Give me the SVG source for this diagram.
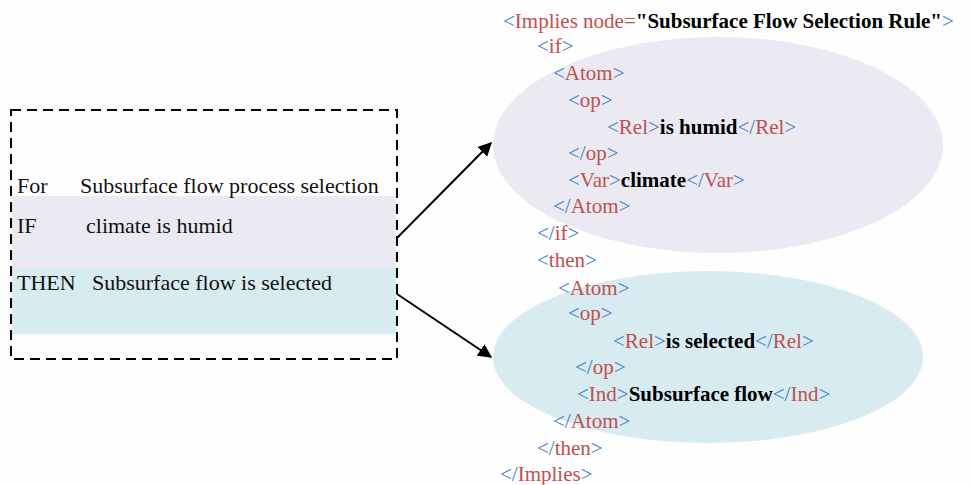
<svg xmlns="http://www.w3.org/2000/svg" width="971" height="485" viewBox="0 0 971 485">
  <defs>
    <style>
      text { font-family: "Liberation Serif", "Times New Roman", serif; font-size: 21px; fill: #111; }
      .plain { font-size: 22px; }
      .b { fill: #3d7fc9; }
      .r { fill: #c0504d; }
      .k { font-weight: bold; fill: #000; }
      .conn { stroke: #000; stroke-width: 2; fill: none; marker-end: url(#arrow); }
    </style>
    <marker id="arrow" viewBox="0 0 10 10" refX="9" refY="5" markerWidth="7" markerHeight="7" orient="auto" markerUnits="strokeWidth">
      <path d="M0,0 L10,5 L0,10 z" fill="#000"/>
    </marker>
  </defs>
  <rect width="971" height="485" fill="#fefefe"/>

  <!-- rule in plain language -->
  <g id="rule-box">
    <rect x="12" y="196" width="384" height="71" fill="#ebe9f1"/>
    <rect x="12" y="267" width="384" height="67" fill="#d7ebf1"/>
    <rect x="11" y="110" width="386" height="249" fill="none" stroke="#000" stroke-width="2" stroke-dasharray="10,6"/>
    <text class="plain" x="17" y="193">For</text>
    <text class="plain" x="80" y="193">Subsurface flow process selection</text>
    <text class="plain" x="17" y="233">IF</text>
    <text class="plain" x="86" y="233">climate is humid</text>
    <text class="plain" x="17" y="290">THEN</text>
    <text class="plain" x="92" y="290">Subsurface flow is selected</text>
  </g>

  <!-- condition ellipse -->
  <g id="if-part">
    <ellipse cx="718" cy="145" rx="225" ry="108" fill="#ebe9f1"/>
  </g>
  <!-- conclusion ellipse -->
  <g id="then-part">
    <ellipse cx="708" cy="357" rx="215" ry="86" fill="#d7ebf1"/>
  </g>

  <!-- RuleML markup -->
  <g id="ruleml">
    <text x="503" y="28"><tspan class="b">&lt;</tspan><tspan class="r">Implies node=</tspan><tspan class="k">"Subsurface Flow Selection Rule"</tspan><tspan class="b">&gt;</tspan></text>
    <text x="537" y="53"><tspan class="b">&lt;</tspan><tspan class="r">if</tspan><tspan class="b">&gt;</tspan></text>
    <text x="553" y="80"><tspan class="b">&lt;</tspan><tspan class="r">Atom</tspan><tspan class="b">&gt;</tspan></text>
    <text x="568" y="107"><tspan class="b">&lt;</tspan><tspan class="r">op</tspan><tspan class="b">&gt;</tspan></text>
    <text x="607" y="134"><tspan class="b">&lt;</tspan><tspan class="r">Rel</tspan><tspan class="b">&gt;</tspan><tspan class="k">is humid</tspan><tspan class="b">&lt;/</tspan><tspan class="r">Rel</tspan><tspan class="b">&gt;</tspan></text>
    <text x="568" y="160"><tspan class="b">&lt;/</tspan><tspan class="r">op</tspan><tspan class="b">&gt;</tspan></text>
    <text x="568" y="187"><tspan class="b">&lt;</tspan><tspan class="r">Var</tspan><tspan class="b">&gt;</tspan><tspan class="k">climate</tspan><tspan class="b">&lt;/</tspan><tspan class="r">Var</tspan><tspan class="b">&gt;</tspan></text>
    <text x="553" y="213"><tspan class="b">&lt;/</tspan><tspan class="r">Atom</tspan><tspan class="b">&gt;</tspan></text>
    <text x="537" y="240"><tspan class="b">&lt;/</tspan><tspan class="r">if</tspan><tspan class="b">&gt;</tspan></text>
    <text x="537" y="267"><tspan class="b">&lt;</tspan><tspan class="r">then</tspan><tspan class="b">&gt;</tspan></text>
    <text x="558" y="295"><tspan class="b">&lt;</tspan><tspan class="r">Atom</tspan><tspan class="b">&gt;</tspan></text>
    <text x="568" y="320"><tspan class="b">&lt;</tspan><tspan class="r">op</tspan><tspan class="b">&gt;</tspan></text>
    <text x="613" y="348"><tspan class="b">&lt;</tspan><tspan class="r">Rel</tspan><tspan class="b">&gt;</tspan><tspan class="k">is selected</tspan><tspan class="b">&lt;/</tspan><tspan class="r">Rel</tspan><tspan class="b">&gt;</tspan></text>
    <text x="575" y="374"><tspan class="b">&lt;/</tspan><tspan class="r">op</tspan><tspan class="b">&gt;</tspan></text>
    <text x="577" y="401"><tspan class="b">&lt;</tspan><tspan class="r">Ind</tspan><tspan class="b">&gt;</tspan><tspan class="k">Subsurface flow</tspan><tspan class="b">&lt;/</tspan><tspan class="r">Ind</tspan><tspan class="b">&gt;</tspan></text>
    <text x="553" y="428"><tspan class="b">&lt;/</tspan><tspan class="r">Atom</tspan><tspan class="b">&gt;</tspan></text>
    <text x="537" y="455"><tspan class="b">&lt;/</tspan><tspan class="r">then</tspan><tspan class="b">&gt;</tspan></text>
    <text x="500" y="481"><tspan class="b">&lt;/</tspan><tspan class="r">Implies</tspan><tspan class="b">&gt;</tspan></text>
  </g>

  <!-- links from rule lines to markup parts -->
  <g id="connectors">
    <line class="conn" x1="397" y1="238" x2="491" y2="143"/>
    <line class="conn" x1="397" y1="294" x2="491" y2="357"/>
  </g>
</svg>
